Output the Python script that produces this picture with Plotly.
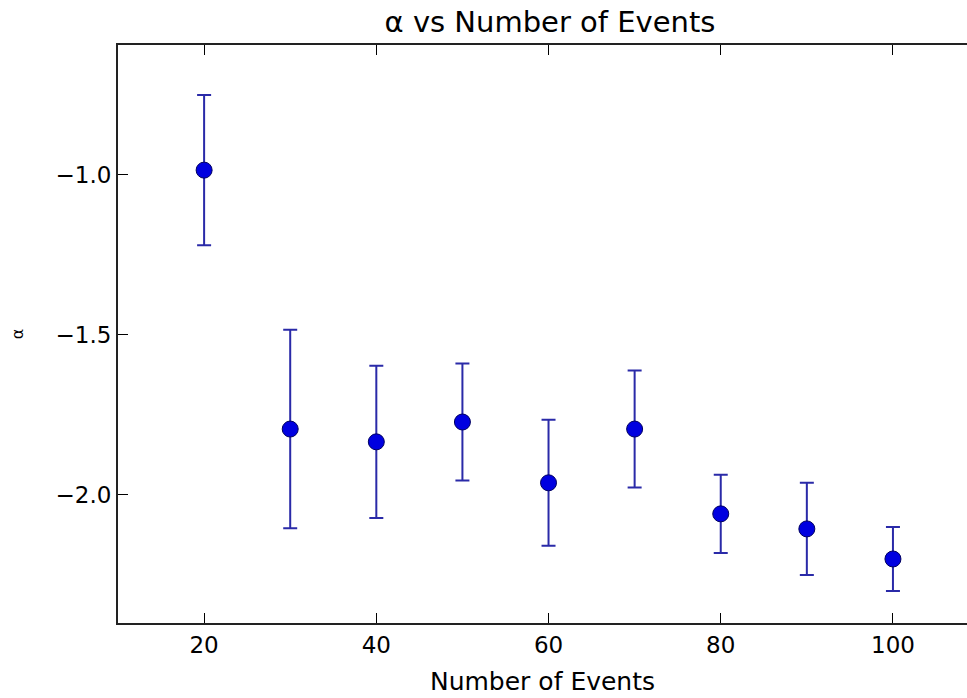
import plotly.graph_objects as go

events = [20, 30, 40, 50, 60, 70, 80, 90, 100]
alpha = [-0.985, -1.794, -1.834, -1.772, -1.962, -1.794, -2.059, -2.106, -2.200]
alpha_err = [0.235, 0.31, 0.238, 0.183, 0.197, 0.183, 0.122, 0.144, 0.10]

x_ticks = [20, 40, 60, 80, 100]
y_ticks = [-1.0, -1.5, -2.0]
y_tick_labels = ["\u22121.0", "\u22121.5", "\u22122.0"]

fig = go.Figure()
fig.add_trace(go.Scatter(
    x=events, y=alpha, mode="markers",
    marker=dict(color="#0000e0", size=16, line=dict(color="#000060", width=1)),
    error_y=dict(type="data", array=alpha_err, visible=True,
                 color="#2a2aa8", thickness=2, width=7),
    showlegend=False,
))

font = "DejaVu Sans"
fig.update_layout(
    width=967, height=698,
    margin=dict(l=118, r=0, t=45, b=75),
    paper_bgcolor="white", plot_bgcolor="white",
    font=dict(family=font, color="black"),
    title=dict(text="\u03b1 vs Number of Events", xref="container", x=550 / 967,
               xanchor="center", y=1 - 22 / 698, yanchor="middle",
               font=dict(size=29, family=font)),
    xaxis=dict(range=[10, 108.6], tickvals=x_ticks, ticks="inside", ticklen=10,
               tickwidth=1, tickcolor="black", showline=True, linecolor="#222",
               linewidth=2, mirror="ticks", showgrid=False, zeroline=False,
               tickfont=dict(size=23), title=dict(text="Number of Events",
               font=dict(size=25), standoff=16)),
    yaxis=dict(range=[-2.4, -0.594], tickvals=y_ticks, ticktext=y_tick_labels,
               ticks="inside", ticklen=10, tickwidth=1, tickcolor="black",
               showline=True, linecolor="#222", linewidth=2, mirror=False,
               showgrid=False, zeroline=False, tickfont=dict(size=23),
               title=dict(text="\u03b1", font=dict(size=16), standoff=28)),
)

fig.write_html("out.html")
